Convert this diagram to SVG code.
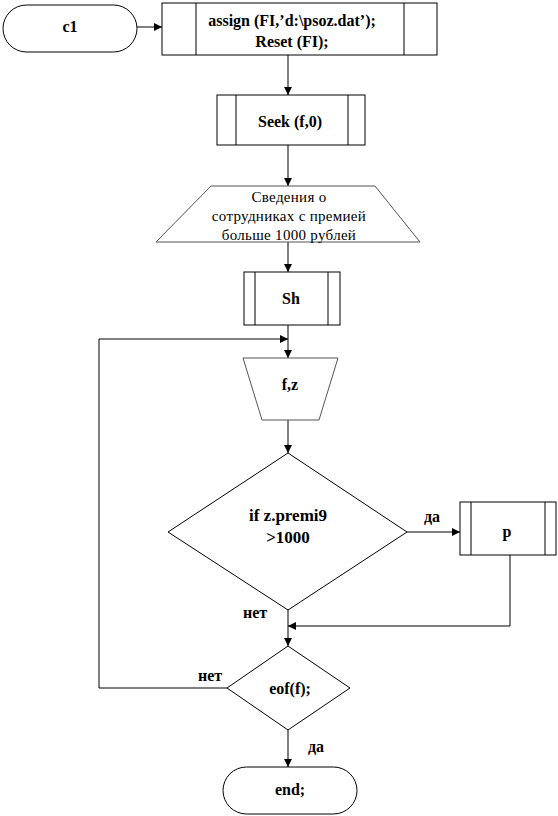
<svg xmlns="http://www.w3.org/2000/svg" width="558" height="816" viewBox="0 0 558 816">
<style>
.s{fill:#fff;stroke:#000;stroke-width:1}
.g{fill:#fff;stroke:#555;stroke-width:1}
.l{fill:none;stroke:#000;stroke-width:1}
text{font-family:'Liberation Serif','DejaVu Serif','Times New Roman',serif;fill:#000;text-anchor:middle}
.t{font-size:16px;font-weight:bold}
.r{font-size:15px;font-weight:normal;letter-spacing:0.3px}
</style>
<defs>
<marker id="a" markerWidth="8" markerHeight="8" refX="8" refY="4" orient="auto" markerUnits="userSpaceOnUse">
<path d="M0,0 L8,4 L0,8 Z" fill="#000"/>
</marker>
</defs>
<g id="connectors">
<line class="l" x1="137" y1="27" x2="162" y2="27" marker-end="url(#a)"/>
<line class="l" x1="288" y1="55" x2="288" y2="95" marker-end="url(#a)"/>
<line class="l" x1="288" y1="145" x2="288" y2="186" marker-end="url(#a)"/>
<line class="l" x1="288" y1="242" x2="288" y2="272" marker-end="url(#a)"/>
<line class="l" x1="288" y1="325" x2="288" y2="358" marker-end="url(#a)"/>
<polyline class="l" points="99,688 99,339 288,339" marker-end="url(#a)"/>
<line class="l" x1="288" y1="420" x2="288" y2="453" marker-end="url(#a)"/>
<line class="l" x1="407" y1="532" x2="460" y2="532" marker-end="url(#a)"/>
<polyline class="l" points="510,555 510,626 288,626" marker-end="url(#a)"/>
<line class="l" x1="288" y1="610" x2="288" y2="646" marker-end="url(#a)"/>
<line class="l" x1="227" y1="688" x2="99" y2="688"/>
<line class="l" x1="288" y1="730" x2="288" y2="767" marker-end="url(#a)"/>
<text class="t" x="432" y="522">да</text>
<text class="t" x="255" y="618">нет</text>
<text class="t" x="210" y="681">нет</text>
<text class="t" x="316" y="752">да</text>
</g>
<g id="c1">
<rect class="s" x="3" y="5" width="134" height="47" rx="23.5"/>
<text class="t" x="70" y="32">c1</text>
</g>
<g id="assign">
<rect class="s" x="162" y="3" width="275" height="52"/>
<line class="l" x1="196" y1="3" x2="196" y2="55"/>
<line class="l" x1="404" y1="3" x2="404" y2="55"/>
<text class="t" x="292" y="26">assign (FI,’d:\psoz.dat’);</text>
<text class="t" x="292" y="47">Reset (FI);</text>
</g>
<g id="seek">
<rect class="s" x="217" y="95" width="148" height="50"/>
<line class="l" x1="236" y1="95" x2="236" y2="145"/>
<line class="l" x1="348" y1="95" x2="348" y2="145"/>
<text class="t" x="290" y="127">Seek (f,0)</text>
</g>
<g id="info">
<polygon class="g" points="211,186 375,186 420,242 156,242"/>
<text class="r" x="289" y="202">Сведения о</text>
<text class="r" x="289" y="221">сотрудниках с премией</text>
<text class="r" x="289" y="240">больше  1000 рублей</text>
</g>
<g id="sh">
<rect class="s" x="244" y="272" width="96" height="53"/>
<line class="l" x1="255" y1="272" x2="255" y2="325"/>
<line class="l" x1="328" y1="272" x2="328" y2="325"/>
<text class="t" x="291" y="304">Sh</text>
</g>
<g id="fz">
<polygon class="g" points="243,358 338,358 319,420 262,420"/>
<text class="t" x="290" y="390">f,z</text>
</g>
<g id="if">
<polygon class="s" points="288,453 407,532 288,610 168,532"/>
<text class="t" x="288" y="521" style="font-size:17px">if z.premi9</text>
<text class="t" x="288" y="543" style="font-size:17px">&gt;1000</text>
</g>
<g id="p">
<rect class="s" x="460" y="502" width="96" height="53"/>
<line class="l" x1="471" y1="502" x2="471" y2="555"/>
<line class="l" x1="545" y1="502" x2="545" y2="555"/>
<text class="t" x="507" y="537">p</text>
</g>
<g id="eof">
<polygon class="s" points="288,646 350,688 288,730 227,688"/>
<text class="t" x="290" y="694">eof(f);</text>
</g>
<g id="end">
<rect class="s" x="223" y="767" width="134" height="47" rx="23.5"/>
<text class="t" x="290" y="795">end;</text>
</g>
</svg>
